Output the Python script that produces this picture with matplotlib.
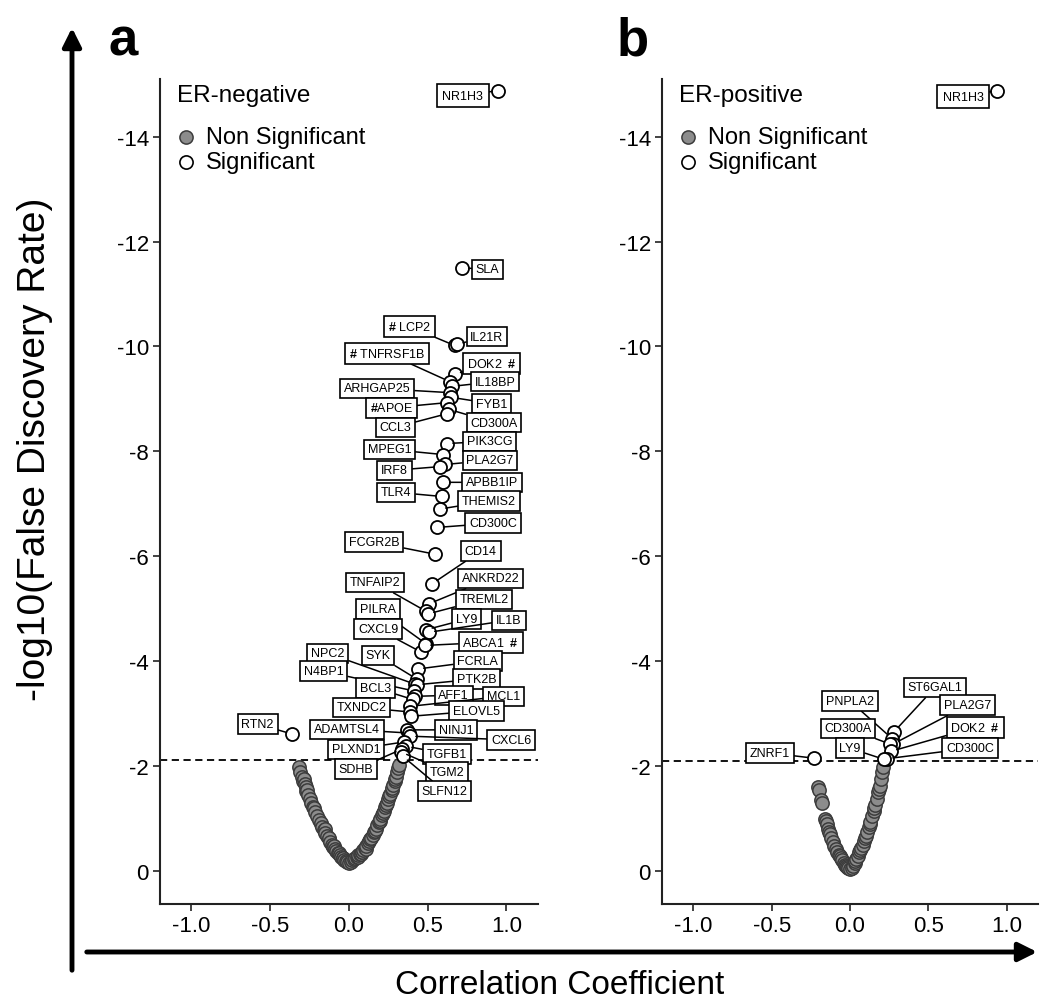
import matplotlib
matplotlib.use("Agg")
import matplotlib.pyplot as plt
from matplotlib.patches import FancyArrowPatch
from matplotlib.ticker import FormatStrFormatter, FixedLocator

plt.rcParams['font.family'] = ['Liberation Sans', 'DejaVu Sans']
plt.rcParams['axes.unicode_minus'] = False
plt.rcParams['mathtext.fontset'] = 'custom'
plt.rcParams['mathtext.bf'] = 'Liberation Sans:bold'
plt.rcParams['mathtext.rm'] = 'Liberation Sans'

# ---------------- data: panel a (ER-negative) ----------------
sig_genes_a = ["NR1H3", "SLA", "LCP2", "IL21R", "DOK2", "TNFRSF1B", "IL18BP", "ARHGAP25",
               "FYB1", "APOE", "CD300A", "CCL3", "PIK3CG", "MPEG1", "PLA2G7", "IRF8",
               "APBB1IP", "TLR4", "THEMIS2", "CD300C", "FCGR2B", "CD14", "ANKRD22",
               "TNFAIP2", "TREML2", "PILRA", "LY9", "IL1B", "CXCL9", "ABCA1", "FCRLA",
               "SYK", "NPC2", "PTK2B", "N4BP1", "AFF1", "BCL3", "MCL1", "TXNDC2",
               "ELOVL5", "RTN2", "NINJ1", "ADAMTSL4", "CXCL6", "PLXND1", "TGFB1",
               "SDHB", "TGM2", "SLFN12"]
sig_r_a = [0.946, 0.72, 0.67, 0.685, 0.67, 0.64, 0.655, 0.64,
           0.65, 0.625, 0.635, 0.625, 0.62, 0.595, 0.61, 0.58,
           0.60, 0.59, 0.575, 0.56, 0.545, 0.525, 0.505,
           0.49, 0.50, 0.49, 0.49, 0.505, 0.46, 0.48, 0.435,
           0.43, 0.42, 0.43, 0.415, 0.42, 0.405, 0.39, 0.39,
           0.395, -0.36, 0.37, 0.38, 0.385, 0.35, 0.36,
           0.335, 0.33, 0.34]
sig_logfdr_a = [-14.88, -11.5, -10.02, -10.04, -9.47, -9.33, -9.24, -9.12,
                -9.03, -8.93, -8.80, -8.72, -8.15, -7.94, -7.75, -7.71,
                -7.41, -7.14, -6.90, -6.55, -6.04, -5.47, -5.09,
                -4.95, -4.90, -4.33, -4.60, -4.55, -4.17, -4.30, -3.85,
                -3.66, -3.56, -3.55, -3.43, -3.33, -3.27, -3.14, -3.03,
                -2.95, -2.61, -2.69, -2.63, -2.57, -2.46, -2.38,
                -2.32, -2.27, -2.19]
hash_genes_a = ["LCP2", "TNFRSF1B", "APOE", "DOK2", "ABCA1"]

ns_r_a = [-0.32, -0.31, -0.30, -0.29, -0.285, -0.28, -0.275, -0.27, -0.265, -0.26,
          -0.25, -0.24, -0.23, -0.22, -0.215, -0.20, -0.19, -0.18, -0.175, -0.17,
          -0.16, -0.155, -0.15, -0.14, -0.13, -0.125, -0.12, -0.11, -0.10, -0.095,
          -0.09, -0.08, -0.07, -0.065, -0.06, -0.05, -0.04, -0.035, -0.03, -0.02,
          -0.01, 0.0, 0.01, 0.02, 0.03, 0.04, 0.05, 0.055, 0.06, 0.07,
          0.075, 0.08, 0.085, 0.09, 0.10, 0.105, 0.11, 0.12, 0.13, 0.135,
          0.14, 0.15, 0.16, 0.165, 0.17, 0.18, 0.19, 0.195, 0.20, 0.21,
          0.215, 0.22, 0.23, 0.235, 0.24, 0.25, 0.255, 0.26, 0.27, 0.275,
          0.28, 0.29, 0.295, 0.30, 0.305, 0.31, 0.315]
ns_logfdr_a = [-1.98, -1.88, -1.80, -1.72, -1.75, -1.66, -1.60, -1.52, -1.55, -1.45,
               -1.38, -1.30, -1.22, -1.20, -1.12, -1.04, -0.97, -0.90, -0.92, -0.84,
               -0.78, -0.80, -0.72, -0.66, -0.60, -0.62, -0.55, -0.50, -0.46, -0.47,
               -0.42, -0.38, -0.34, -0.35, -0.30, -0.27, -0.24, -0.25, -0.21, -0.19,
               -0.17, -0.16, -0.18, -0.20, -0.22, -0.24, -0.27, -0.26, -0.30, -0.33,
               -0.32, -0.37, -0.36, -0.40, -0.44, -0.42, -0.48, -0.53, -0.58, -0.60,
               -0.63, -0.68, -0.74, -0.76, -0.80, -0.87, -0.93, -0.95, -1.00, -1.07,
               -1.10, -1.14, -1.22, -1.26, -1.30, -1.38, -1.42, -1.46, -1.55, -1.58,
               -1.63, -1.71, -1.75, -1.80, -1.88, -1.96, -2.02]

# ---------------- data: panel b (ER-positive) ----------------
sig_genes_b = ["NR1H3", "ST6GAL1", "PNPLA2", "PLA2G7", "CD300A", "DOK2", "CD300C", "LY9", "ZNRF1"]
sig_r_b = [0.94, 0.28, 0.27, 0.275, 0.255, 0.26, 0.235, 0.215, -0.23]
sig_logfdr_b = [-14.88, -2.65, -2.52, -2.42, -2.42, -2.28, -2.14, -2.13, -2.15]
hash_genes_b = ["DOK2"]

ns_r_b = [-0.205, -0.20, -0.185, -0.18, -0.16, -0.155, -0.15, -0.14, -0.135, -0.13,
          -0.12, -0.11, -0.10, -0.09, -0.08, -0.07, -0.065, -0.06, -0.05, -0.04,
          -0.03, -0.025, -0.02, -0.01, 0.0, 0.01, 0.02, 0.03, 0.035, 0.04,
          0.05, 0.06, 0.065, 0.07, 0.08, 0.09, 0.095, 0.10, 0.11, 0.12,
          0.125, 0.13, 0.14, 0.15, 0.155, 0.16, 0.17, 0.18, 0.185, 0.19,
          0.20, 0.205, 0.21]
ns_logfdr_b = [-1.60, -1.55, -1.35, -1.30, -1.00, -0.95, -0.90, -0.80, -0.75, -0.70,
               -0.62, -0.55, -0.48, -0.42, -0.36, -0.30, -0.28, -0.25, -0.20, -0.16,
               -0.12, -0.10, -0.08, -0.05, -0.03, -0.05, -0.10, -0.16, -0.19, -0.22,
               -0.28, -0.36, -0.40, -0.43, -0.50, -0.58, -0.62, -0.66, -0.74, -0.84,
               -0.90, -0.94, -1.04, -1.14, -1.20, -1.26, -1.38, -1.50, -1.56, -1.62,
               -1.76, -1.88, -1.98]

threshold_a = -2.11
threshold_b = -2.10
x_ticks = [-1.0, -0.5, 0.0, 0.5, 1.0]
y_ticks = [-14, -12, -10, -8, -6, -4, -2, 0]

# ---------------- layout: label box centres (data coords) ----------------
label_pos_a = {
    "NR1H3": (0.722, -14.78), "SLA": (0.88, -11.47), "LCP2": (0.383, -10.38),
    "IL21R": (0.876, -10.19), "DOK2": (0.907, -9.68), "TNFRSF1B": (0.243, -9.87),
    "IL18BP": (0.927, -9.33), "ARHGAP25": (0.18, -9.20), "FYB1": (0.907, -8.91),
    "APOE": (0.268, -8.83), "CD300A": (0.92, -8.55), "CCL3": (0.294, -8.46),
    "PIK3CG": (0.895, -8.19), "MPEG1": (0.256, -8.04), "PLA2G7": (0.895, -7.83),
    "IRF8": (0.29, -7.64), "APBB1IP": (0.907, -7.41), "TLR4": (0.30, -7.22),
    "THEMIS2": (0.888, -7.05), "CD300C": (0.914, -6.63), "FCGR2B": (0.16, -6.27),
    "CD14": (0.837, -6.10), "ANKRD22": (0.90, -5.58), "TNFAIP2": (0.166, -5.50),
    "TREML2": (0.856, -5.18), "PILRA": (0.185, -4.99), "LY9": (0.745, -4.80),
    "IL1B": (1.016, -4.78), "CXCL9": (0.185, -4.61), "ABCA1": (0.90, -4.36),
    "FCRLA": (0.818, -4.00), "SYK": (0.185, -4.11), "NPC2": (-0.134, -4.15),
    "PTK2B": (0.81, -3.66), "N4BP1": (-0.16, -3.81), "AFF1": (0.665, -3.35),
    "BCL3": (0.17, -3.49), "MCL1": (0.98, -3.33), "TXNDC2": (0.08, -3.12),
    "ELOVL5": (0.81, -3.05), "RTN2": (-0.58, -2.80), "NINJ1": (0.68, -2.69),
    "ADAMTSL4": (-0.013, -2.70), "CXCL6": (1.03, -2.50), "PLXND1": (0.045, -2.32),
    "TGFB1": (0.62, -2.23), "SDHB": (0.045, -1.94), "TGM2": (0.62, -1.89),
    "SLFN12": (0.607, -1.52),
}
label_pos_b = {
    "NR1H3": (0.722, -14.76), "ST6GAL1": (0.543, -3.50), "PNPLA2": (0.0, -3.24),
    "PLA2G7": (0.748, -3.16), "CD300A": (-0.013, -2.72), "DOK2": (0.80, -2.74),
    "CD300C": (0.767, -2.34), "LY9": (0.0, -2.34), "ZNRF1": (-0.511, -2.25),
}

fig = plt.figure(figsize=(10.4, 10.03), dpi=100)
W, H = 1040.0, 1003.0
ax_a = fig.add_axes([160 / W, 1 - 905 / H, 378 / W, 825 / H])
ax_b = fig.add_axes([662 / W, 1 - 905 / H, 376 / W, 825 / H])

GREY = "#8c8c8c"
EDGE = "#3c3c3c"


def label_text(g, hashes):
    if g in hashes:
        if g in ("LCP2", "TNFRSF1B"):
            return r"$\mathbf{\#}$ " + g
        if g == "APOE":
            return r"$\mathbf{\#}$" + g
        return g + r"  $\mathbf{\#}$"
    return g


def draw_panel(ax, ns_r, ns_y, genes, r, y, hashes, lab_pos, thr, title):
    ax.scatter(ns_r, ns_y, s=92, facecolor=GREY, edgecolor=EDGE, linewidths=1.1, zorder=3)
    ax.scatter(r, y, s=88, facecolor="white", edgecolor="black", linewidths=1.3, zorder=4)
    ax.axhline(thr, color="black", lw=1.3, ls=(0, (4, 2.5)), zorder=2)
    for g, xx, yy in zip(genes, r, y):
        lx, ly = lab_pos[g]
        pad = 0.45 if g == "NR1H3" else 0.3
        ax.annotate(label_text(g, hashes), xy=(xx, yy), xytext=(lx, ly),
                    textcoords="data", ha="center", va="center", fontsize=9,
                    bbox=dict(boxstyle="square,pad=%s" % pad, fc="white", ec="black", lw=1.2),
                    arrowprops=dict(arrowstyle="-", color="black", lw=1.1,
                                    shrinkA=0, shrinkB=4.5),
                    zorder=5)
    ax.set_xlim(-1.2, 1.2)
    ax.set_ylim(0.63, -15.1)
    ax.xaxis.set_major_locator(FixedLocator(x_ticks))
    ax.yaxis.set_major_locator(FixedLocator(y_ticks))
    ax.xaxis.set_major_formatter(FormatStrFormatter("%.1f"))
    ax.yaxis.set_major_formatter(FormatStrFormatter("%d"))
    for s in ("top", "right"):
        ax.spines[s].set_visible(False)
    for s in ("left", "bottom"):
        ax.spines[s].set_linewidth(1.5)
        ax.spines[s].set_color("#222222")
    ax.tick_params(direction="out", length=5, width=1.2, labelsize=16, pad=3,
                   colors="#222222", labelcolor="black")
    ax.patch.set_alpha(0)
    # title and legend
    ax.text(0.045, 0.973, title, transform=ax.transAxes, fontsize=17.5, va="baseline")
    ax.plot([0.069], [0.930], "o", transform=ax.transAxes, ms=9.5,
            mfc=GREY, mec=EDGE, mew=1.1, clip_on=False)
    ax.plot([0.069], [0.899], "o", transform=ax.transAxes, ms=9.5,
            mfc="white", mec="black", mew=1.2, clip_on=False)
    ax.text(0.122, 0.930, "Non Significant", transform=ax.transAxes, fontsize=17, va="center")
    ax.text(0.122, 0.899, "Significant", transform=ax.transAxes, fontsize=17, va="center")


draw_panel(ax_a, ns_r_a, ns_logfdr_a, sig_genes_a, sig_r_a, sig_logfdr_a,
           hash_genes_a, label_pos_a, threshold_a, "ER-negative")
draw_panel(ax_b, ns_r_b, ns_logfdr_b, sig_genes_b, sig_r_b, sig_logfdr_b,
           hash_genes_b, label_pos_b, threshold_b, "ER-positive")

# panel letters
fig.text(108 / W, 1 - 56 / H, "a", fontsize=38, fontweight="bold", va="baseline")
fig.text(617 / W, 1 - 56 / H, "b", fontsize=38, fontweight="bold", va="baseline")

# big axis arrows
fig.add_artist(FancyArrowPatch((72 / W, 1 - 974 / H), (72 / W, 1 - 26 / H),
                               transform=fig.transFigure, arrowstyle="-|>",
                               mutation_scale=28, lw=3.5, color="black"))
fig.add_artist(FancyArrowPatch((84 / W, 1 - 953 / H), (1040 / W, 1 - 953 / H),
                               transform=fig.transFigure, arrowstyle="-|>",
                               mutation_scale=28, lw=3.5, color="black"))

fig.text(35 / W, 1 - 449 / H, "-log10(False Discovery Rate)", rotation=90,
         ha="center", va="center", fontsize=28)
fig.text(560 / W, 1 - 985 / H, "Correlation Coefficient", ha="center", va="center", fontsize=24)

fig.savefig("out.png", dpi=100)
